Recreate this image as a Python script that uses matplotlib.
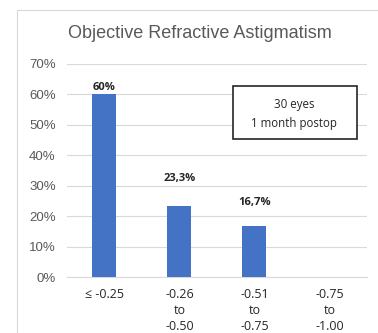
import matplotlib.pyplot as plt
from matplotlib.patches import Rectangle

# data
categories = ['\u2264 -0.25', '-0.26\nto\n-0.50', '-0.51\nto\n-0.75', '-0.75\nto\n-1.00']
values = [60, 23.3, 16.7, 0]
value_labels = ['60%', '23,3%', '16,7%', '']
yticks = [0, 10, 20, 30, 40, 50, 60, 70]

plt.rcParams['font.family'] = ['Liberation Sans', 'DejaVu Sans']
body_font = ['Open Sans', 'DejaVu Sans']

fig = plt.figure(figsize=(3.78, 3.33), dpi=100)

# outer chart frame
fig.patches.append(Rectangle((17 / 378, -0.01), 1.0, 1 - 10 / 333 + 0.01,
                             transform=fig.transFigure, fill=False,
                             edgecolor='#d9d9d9', linewidth=0.8))

ax = fig.add_axes([0.177, 0.168, 0.794, 0.640])
x = list(range(len(categories)))
ax.bar(x, values, width=0.32, color='#4472C4', zorder=3)

# value labels, offsets tuned per bar
offsets = [1, 16, 13, 0]
for xi, v, lab, off in zip(x, values, value_labels, offsets):
    if lab:
        ax.annotate(lab, (xi, v), xytext=(0, off), textcoords='offset points',
                    ha='center', va='bottom', fontsize=8, fontweight='bold',
                    color='#262626', family=body_font)

ax.set_ylim(0, 70)
ax.set_xlim(-0.5, 3.5)
ax.set_yticks(yticks)
ax.set_yticklabels([f'{t}%' for t in yticks], fontsize=9.5, color='#595959')
ax.set_xticks(x)
ax.set_xticklabels(categories, fontsize=9, color='#262626', linespacing=1.3,
                   family=body_font)
ax.tick_params(length=0)
ax.tick_params(axis='y', pad=8)
ax.tick_params(axis='x', pad=8)
ax.yaxis.grid(True, color='#d9d9d9', linewidth=0.8, zorder=0)
for s in ['top', 'right', 'left']:
    ax.spines[s].set_visible(False)
ax.spines['bottom'].set_color('#d9d9d9')
ax.spines['bottom'].set_zorder(1)

fig.text(0.53, 0.90, 'Objective Refractive Astigmatism', ha='center', va='center',
         fontsize=13, color='#595959')

# annotation box
ax.add_patch(Rectangle((0.553, 0.648), 0.413, 0.249, transform=ax.transAxes,
                       facecolor='white', edgecolor='#262626', linewidth=1.2,
                       zorder=5))
ax.text(0.757, 0.765, '30 eyes\n1 month postop', transform=ax.transAxes,
        ha='center', va='center', fontsize=8.3, color='#262626', linespacing=1.55,
        family=body_font, zorder=6)

fig.savefig('out.png', dpi=100)
